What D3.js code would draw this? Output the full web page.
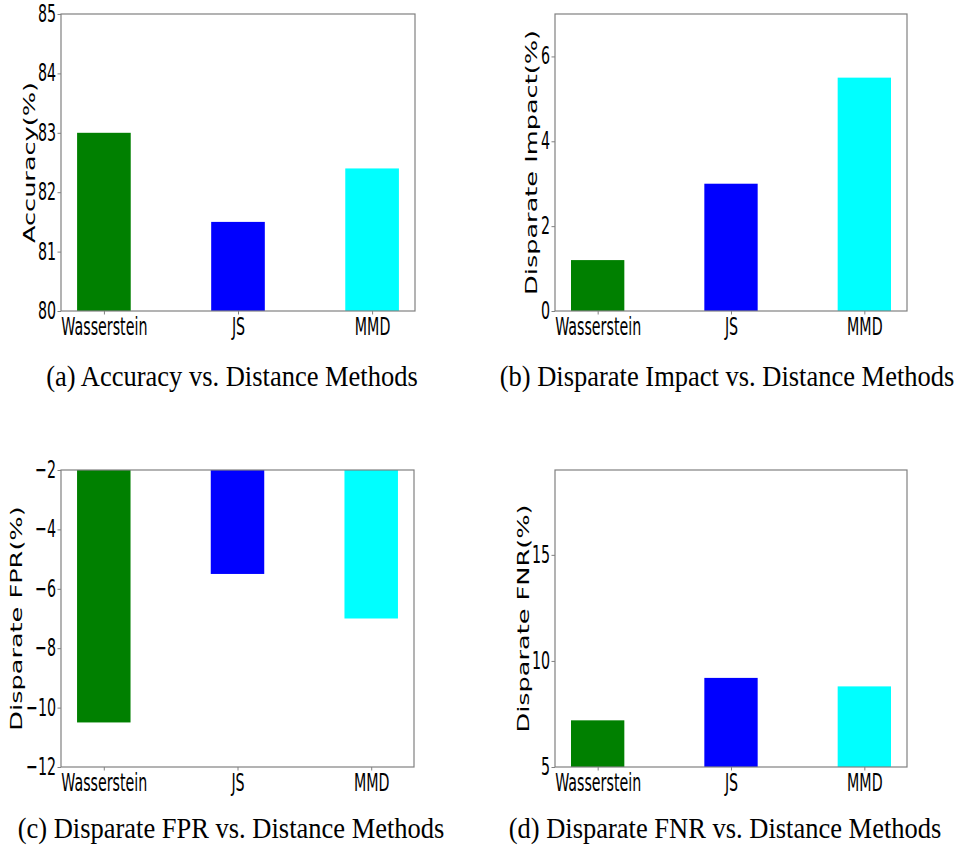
<!DOCTYPE html>
<html>
<head>
<meta charset="utf-8">
<script src="https://cdn.jsdelivr.net/npm/d3@7"></script>
<style>
  html, body { margin: 0; padding: 0; background: #fff; }
  svg { display: block; }
</style>
</head>
<body>
<svg id="chart" width="955" height="851"></svg>
<script>
// ---- data ----
const categories = ["Wasserstein", "JS", "MMD"];
const barColors = ["#008000", "#0000ff", "#00ffff"];

const accuracy = [83.0, 81.5, 82.4];
const disparateImpact = [1.2, 3.0, 5.5];
const disparateFPR = [-10.5, -5.5, -7.0];
const disparateFNR = [7.2, 9.2, 8.8];

const ticksA = [80, 81, 82, 83, 84, 85];
const ticksB = [0, 2, 4, 6];
const ticksC = [-12, -10, -8, -6, -4, -2];
const ticksD = [5, 10, 15];

const domainA = [80, 85];
const domainB = [0, 7];
const domainC = [-12, -2];
const domainD = [5, 19];

const yLabels = ["Accuracy(%)", "Disparate Impact(%)", "Disparate FPR(%)", "Disparate FNR(%)"];
const captions = [
  "(a) Accuracy vs. Distance Methods",
  "(b) Disparate Impact vs. Distance Methods",
  "(c) Disparate FPR vs. Distance Methods",
  "(d) Disparate FNR vs. Distance Methods"
];

// ---- layout (positions only) ----
const panels = [
  { values: accuracy,        ticks: ticksA, domain: domainA, label: yLabels[0], caption: captions[0],
    frame: { l: 61,  t: 14,  r: 415, b: 311 }, labelX: 35,  capX: 232, capY: 386 },
  { values: disparateImpact, ticks: ticksB, domain: domainB, label: yLabels[1], caption: captions[1],
    frame: { l: 555, t: 14,  r: 907, b: 311 }, labelX: 537, capX: 727, capY: 386 },
  { values: disparateFPR,    ticks: ticksC, domain: domainC, label: yLabels[2], caption: captions[2],
    frame: { l: 61,  t: 470, r: 414, b: 767 }, labelX: 22,  capX: 231, capY: 838 },
  { values: disparateFNR,    ticks: ticksD, domain: domainD, label: yLabels[3], caption: captions[3],
    frame: { l: 555, t: 470, r: 907, b: 767 }, labelX: 529, capX: 725, capY: 838 }
];

const svg = d3.select("#chart");
const frameColor = "#808080";
const tickFont = "'DejaVu Sans', sans-serif";
const sx = 0.57;   // horizontal compression of tick labels
const barWidth = 0.4;

panels.forEach((p, pi) => {
  const f = p.frame;
  const x = d3.scaleLinear().domain([-0.32, 2.32]).range([f.l, f.r]);
  const y = d3.scaleLinear().domain(p.domain).range([f.b, f.t]).clamp(true);

  const clipId = "clip" + pi;
  svg.append("clipPath").attr("id", clipId)
    .append("rect").attr("x", f.l).attr("y", f.t).attr("width", f.r - f.l).attr("height", f.b - f.t);

  // bars
  svg.append("g").attr("clip-path", `url(#${clipId})`)
    .selectAll("rect").data(p.values).join("rect")
    .attr("x", (d, i) => x(i - barWidth / 2))
    .attr("width", (d, i) => x(i + barWidth / 2) - x(i - barWidth / 2))
    .attr("y", d => Math.min(y(d), y(0)))
    .attr("height", d => Math.abs(y(d) - y(0)))
    .attr("fill", (d, i) => barColors[i]);

  // y axis
  const gy = svg.append("g").attr("transform", `translate(${f.l},0)`)
    .call(d3.axisLeft(y).tickValues(p.ticks).tickSize(3.5).tickSizeOuter(0)
      .tickFormat(v => String(v).replace("-", "\u2212")));
  gy.select(".domain").remove();
  gy.selectAll(".tick line").attr("stroke", frameColor);
  gy.selectAll(".tick text")
    .attr("font-family", tickFont).attr("font-size", 25).attr("fill", "#000")
    .attr("x", -5 / sx).attr("dy", "0.3em")
    .attr("transform", `scale(${sx},1)`);

  // x axis
  const gx = svg.append("g").attr("transform", `translate(0,${f.b})`)
    .call(d3.axisBottom(x).tickValues([0, 1, 2]).tickSize(3.5).tickSizeOuter(0)
      .tickFormat(i => categories[i]));
  gx.select(".domain").remove();
  gx.selectAll(".tick line").attr("stroke", frameColor);
  gx.selectAll(".tick text")
    .attr("font-family", tickFont).attr("font-size", 25).attr("fill", "#000")
    .attr("y", 5).attr("dy", "0.76em")
    .attr("transform", `scale(${sx},1)`);

  // frame
  svg.append("rect")
    .attr("x", f.l).attr("y", f.t).attr("width", f.r - f.l).attr("height", f.b - f.t)
    .attr("fill", "none").attr("stroke", frameColor).attr("stroke-width", 1.2);

  // y label
  svg.append("text")
    .attr("transform", `translate(${p.labelX},${(f.t + f.b) / 2}) rotate(-90) scale(1.6,1)`)
    .attr("text-anchor", "middle")
    .attr("font-family", tickFont).attr("font-size", 16).attr("fill", "#000")
    .text(p.label);

  // caption
  svg.append("text")
    .attr("transform", `translate(${p.capX},${p.capY}) scale(1,1.15)`)
    .attr("text-anchor", "middle")
    .attr("font-family", "'Liberation Serif', 'Times New Roman', serif")
    .attr("font-size", 26.5).attr("fill", "#000")
    .text(p.caption);
});
</script>
</body>
</html>
